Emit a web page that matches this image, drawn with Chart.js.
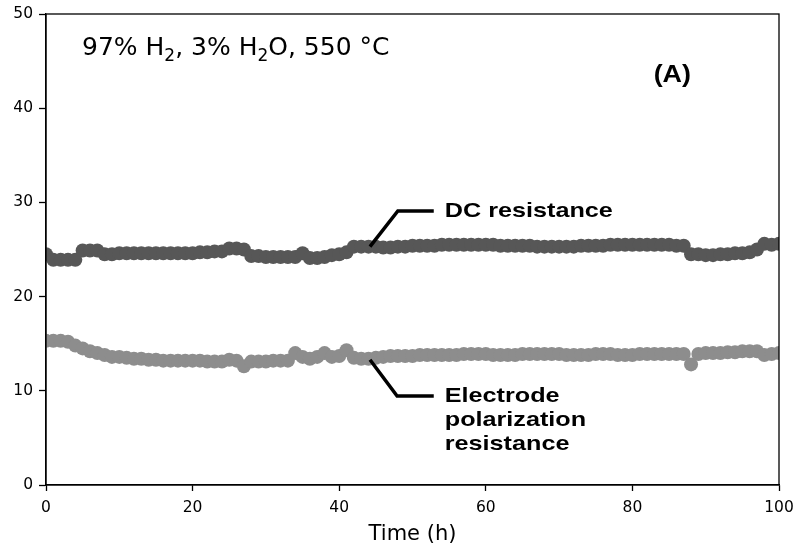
<!DOCTYPE html>
<html>
<head>
<meta charset="utf-8">
<script src="https://cdn.jsdelivr.net/npm/chart.js@4"></script>
<style>
  html, body { margin: 0; padding: 0; background: #fff; }
  #wrap { width: 795px; height: 547px; position: relative; }
</style>
</head>
<body>
<div id="wrap"><canvas id="chart"></canvas></div>
<script>
// ── data ──
const hours = Array.from({ length: 101 }, (_, i) => i);

const dcResistance = [
  24.5, 23.9, 23.9, 23.9, 23.9, 24.9, 24.9, 24.9, 24.5, 24.5,
  24.6, 24.6, 24.6, 24.6, 24.6, 24.6, 24.6, 24.6, 24.6, 24.6,
  24.6, 24.7, 24.7, 24.8, 24.8, 25.1, 25.1, 25.0, 24.3, 24.3,
  24.2, 24.2, 24.2, 24.2, 24.2, 24.6, 24.1, 24.1, 24.2, 24.4,
  24.5, 24.7, 25.3, 25.3, 25.3, 25.3, 25.2, 25.2, 25.3, 25.3,
  25.4, 25.4, 25.4, 25.4, 25.5, 25.5, 25.5, 25.5, 25.5, 25.5,
  25.5, 25.5, 25.4, 25.4, 25.4, 25.4, 25.4, 25.3, 25.3, 25.3,
  25.3, 25.3, 25.3, 25.4, 25.4, 25.4, 25.4, 25.5, 25.5, 25.5,
  25.5, 25.5, 25.5, 25.5, 25.5, 25.5, 25.4, 25.4, 24.5, 24.5,
  24.4, 24.4, 24.5, 24.5, 24.6, 24.6, 24.7, 25.0, 25.6, 25.5,
  25.6
];

const electrodeResistance = [
  15.3, 15.3, 15.3, 15.2, 14.8, 14.5, 14.2, 14.0, 13.8, 13.6,
  13.6, 13.5, 13.4, 13.4, 13.3, 13.3, 13.2, 13.2, 13.2, 13.2,
  13.2, 13.2, 13.1, 13.1, 13.1, 13.3, 13.2, 12.6, 13.1, 13.1,
  13.1, 13.2, 13.2, 13.2, 14.0, 13.6, 13.4, 13.6, 14.0, 13.6,
  13.7, 14.3, 13.5, 13.4, 13.4, 13.5, 13.6, 13.7, 13.7, 13.7,
  13.7, 13.8, 13.8, 13.8, 13.8, 13.8, 13.8, 13.9, 13.9, 13.9,
  13.9, 13.8, 13.8, 13.8, 13.8, 13.9, 13.9, 13.9, 13.9, 13.9,
  13.9, 13.8, 13.8, 13.8, 13.8, 13.9, 13.9, 13.9, 13.8, 13.8,
  13.8, 13.9, 13.9, 13.9, 13.9, 13.9, 13.9, 13.9, 12.8, 13.9,
  14.0, 14.0, 14.0, 14.1, 14.1, 14.2, 14.2, 14.2, 13.8, 13.9,
  14.0
];

const xTicks = [0, 20, 40, 60, 80, 100];
const yTicks = [0, 10, 20, 30, 40, 50];

// annotation anchors in data units: [start, elbow, end]
const dcLeader = [[44.2, 25.3], [48.0, 29.1], [52.9, 29.1]];
const epLeader = [[44.2, 13.3], [47.9, 9.45], [52.9, 9.45]];
const dcLabel = ['DC resistance'];
const epLabel = ['Electrode', 'polarization', 'resistance'];

// ── annotation plugin ──
// the bold labels in the original are a bit wider than Liberation Sans Bold
function wideText(ctx, s, px, py, sx) {
    ctx.save();
    ctx.translate(px, py);
    ctx.scale(sx, 1);
    ctx.fillText(s, 0, 0);
    ctx.restore();
}

const annotations = {
    id: 'annotations',
    afterDatasetsDraw(chart) {
        const { ctx, chartArea: a, scales: { x, y } } = chart;
        ctx.save();

        // frame (top & right)
        ctx.strokeStyle = '#000';
        ctx.lineWidth = 1.3;
        ctx.strokeRect(a.left, a.top, a.right - a.left, a.bottom - a.top);

        // leader lines
        ctx.lineWidth = 3.5;
        ctx.lineJoin = 'miter';
        [dcLeader, epLeader].forEach(pts => {
            ctx.beginPath();
            pts.forEach(([t, v], i) => {
                const px = x.getPixelForValue(t), py = y.getPixelForValue(v);
                i ? ctx.lineTo(px, py) : ctx.moveTo(px, py);
            });
            ctx.stroke();
        });

        // labels
        ctx.fillStyle = '#000';
        ctx.font = 'bold 21px "Liberation Sans", Arial, sans-serif';
        ctx.textBaseline = 'middle';
        ctx.textAlign = 'left';
        const lx = x.getPixelForValue(54.4);
        wideText(ctx, dcLabel[0], lx, y.getPixelForValue(29.1), 1.2);
        epLabel.forEach((s, i) => {
            wideText(ctx, s, lx, y.getPixelForValue(9.45) + i * 24, 1.2);
        });

        ctx.font = 'bold 24px "Liberation Sans", Arial, sans-serif';
        wideText(ctx, '(A)', x.getPixelForValue(82.9), y.getPixelForValue(43.5), 1.12);

        // condition text with subscripts
        const parts = [['97% H', 0], ['2', 1], [', 3% H', 0], ['2', 1], ['O, 550 °C', 0]];
        let cx = a.left + 36;
        const cy = a.top + 34;
        parts.forEach(([s, sub]) => {
            ctx.font = sub ? '17px "DejaVu Sans", sans-serif' : '25px "DejaVu Sans", sans-serif';
            ctx.fillText(s, cx, cy + (sub ? 9 : 0));
            cx += ctx.measureText(s).width;
        });

        ctx.restore();
    }
};

const tickFont = { family: '"DejaVu Sans", sans-serif', size: 15.5 };

new Chart(document.getElementById('chart'), {
    type: 'line',
    data: {
        labels: hours,
        datasets: [
            {
                label: 'DC resistance',
                data: hours.map((t, i) => ({ x: t, y: dcResistance[i] })),
                showLine: false,
                pointRadius: 7,
                pointBackgroundColor: '#575757',
                pointBorderColor: '#575757',
                pointBorderWidth: 0,
            },
            {
                label: 'Electrode polarization resistance',
                data: hours.map((t, i) => ({ x: t, y: electrodeResistance[i] })),
                showLine: false,
                pointRadius: 7,
                pointBackgroundColor: '#8d8d8d',
                pointBorderColor: '#8d8d8d',
                pointBorderWidth: 0,
            }
        ]
    },
    options: {
        responsive: true,
        maintainAspectRatio: false,
        animation: false,
        events: [],
        layout: { padding: { top: 14, right: 16, left: 0, bottom: 0 } },
        plugins: { legend: { display: false }, tooltip: { enabled: false } },
        scales: {
            x: {
                type: 'linear',
                min: 0,
                max: 100,
                afterBuildTicks: s => { s.ticks = xTicks.map(v => ({ value: v })); },
                afterFit: s => { s.height = 62; s.paddingLeft = 0; s.paddingRight = 0; },
                ticks: { font: tickFont, color: '#000', padding: 8, maxRotation: 0 },
                grid: { drawOnChartArea: false, tickLength: 6, color: '#000', tickWidth: 1.3 },
                border: { color: '#000', width: 1.3 },
                title: {
                    display: true,
                    text: 'Time (h)',
                    font: { family: '"DejaVu Sans", sans-serif', size: 21 },
                    color: '#000',
                    padding: { top: 0, bottom: 0 },
                },
            },
            y: {
                min: 0,
                max: 50,
                afterBuildTicks: s => { s.ticks = yTicks.map(v => ({ value: v })); },
                afterFit: s => { s.width = 46; s.paddingTop = 0; s.paddingBottom = 0; },
                ticks: { font: tickFont, color: '#000', padding: 6 },
                grid: { drawOnChartArea: false, tickLength: 7, color: '#000', tickWidth: 1.3 },
                border: { color: '#000', width: 1.3 },
            }
        }
    },
    plugins: [annotations]
});
</script>
</body>
</html>
